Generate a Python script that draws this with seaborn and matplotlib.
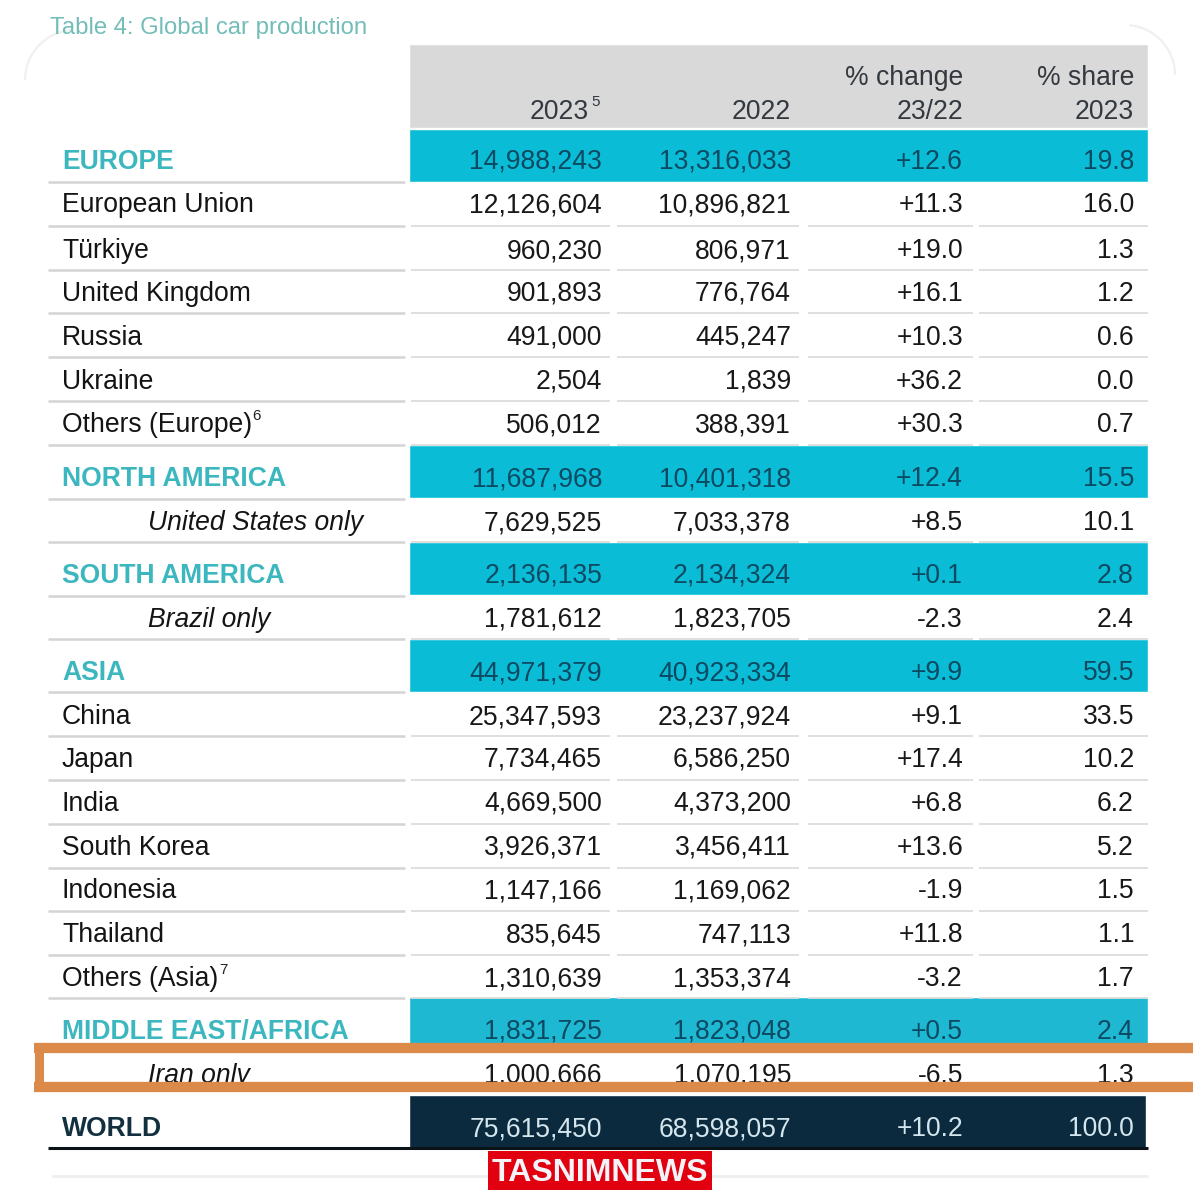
# Tabla de produccion mundial de coches
import pandas as pd
import seaborn as sns
import matplotlib.pyplot as plt
from matplotlib.patches import Arc

sns.set_theme(style="white")
plt.rcParams['font.family'] = ['Liberation Sans', 'DejaVu Sans']

# Datos
filas = ["EUROPE", "European Union", "Türkiye", "United Kingdom", "Russia", "Ukraine", "Others (Europe)",
         "NORTH AMERICA", "United States only", "SOUTH AMERICA", "Brazil only", "ASIA", "China", "Japan",
         "India", "South Korea", "Indonesia", "Thailand", "Others (Asia)", "MIDDLE EAST/AFRICA", "Iran only", "WORLD"]
valores_2023 = [14988243, 12126604, 960230, 901893, 491000, 2504, 506012, 11687968, 7629525, 2136135, 1781612,
                44971379, 25347593, 7734465, 4669500, 3926371, 1147166, 835645, 1310639, 1831725, 1000666, 75615450]
valores_2022 = [13316033, 10896821, 806971, 776764, 445247, 1839, 388391, 10401318, 7033378, 2134324, 1823705,
                40923334, 23237924, 6586250, 4373200, 3456411, 1169062, 747113, 1353374, 1823048, 1070195, 68598057]
cambio = [12.6, 11.3, 19.0, 16.1, 10.3, 36.2, 30.3, 12.4, 8.5, 0.1, -2.3, 9.9, 9.1, 17.4, 6.8, 13.6, -1.9, 11.8,
          -3.2, 0.5, -6.5, 10.2]
cuota = [19.8, 16.0, 1.3, 1.2, 0.6, 0.0, 0.7, 15.5, 10.1, 2.8, 2.4, 59.5, 33.5, 10.2, 6.2, 5.2, 1.5, 1.1, 1.7,
         2.4, 1.3, 100.0]
regiones = ["EUROPE", "NORTH AMERICA", "SOUTH AMERICA", "ASIA", "MIDDLE EAST/AFRICA"]
solo_pais = ["United States only", "Brazil only", "Iran only"]

# Posicion de las filas en pixeles
centros = [160, 203, 249, 292, 336, 380, 423, 477, 521, 574, 618, 671, 715, 758, 802, 846, 889, 933, 977, 1030, 1074, 1127]
lineas_izq = [182, 226, 270, 313, 357, 401, 445, 499, 542, 596, 639, 692, 736, 780, 824, 868, 911, 955, 998]
lineas_der = [226, 270, 313, 357, 401, 445, 542, 639, 736, 780, 824, 868, 911, 955, 998]
tramos = [(411, 610), (617, 799), (808, 973), (979, 1148)]
bordes = [602, 791, 963, 1134]

fig, ax = plt.subplots(figsize=(12, 12), dpi=100)
fig.patch.set_facecolor("white")
ax.set_position([0, 0, 1, 1])


def banda(arriba, abajo, color, derecha=1148):
    df = pd.DataFrame({"y": [(arriba + abajo) / 2], "ancho": [derecha - 409]})
    sns.barplot(data=df, x="ancho", y="y", orient="y", native_scale=True, width=abajo - arriba,
                left=409, color=color, saturation=1, ax=ax, zorder=1)


banda(44, 128, "#d9d9d9")
banda(129, 182, "#0bbcd6")
banda(445, 498, "#0bbcd6")
banda(542, 595, "#0bbcd6")
banda(639, 692, "#0bbcd6")
banda(997, 1047, "#1fb8d3")
banda(1095, 1148, "#0c2a3e", derecha=1146)

ax.set_xlim(0, 1200)
ax.set_ylim(1200, 0)
ax.axis("off")

# Lineas separadoras
ax.hlines(lineas_izq, 48, 405, color="#d4d4d4", lw=1.8, zorder=2)
for a, b in tramos:
    ax.hlines(lineas_der, a, b, color="#dcdcdc", lw=1.3, zorder=2)
ax.hlines(1148, 48, 1148, color="#0a1418", lw=2.2, zorder=3)
ax.hlines(1176, 52, 1148, color="#efefef", lw=2, zorder=2)

# Esquinas tenues de la captura
ax.add_patch(Arc((75, 80), 100, 100, theta1=180, theta2=265, color="#f0f0f0", lw=1.6))
ax.add_patch(Arc((1125, 75), 100, 100, theta1=275, theta2=360, color="#f0f0f0", lw=1.6))

# Titulo y cabecera
ax.text(50, 34, "Table 4: Global car production", fontsize=17.2, color="#73bdb9")
cab = "#33393f"
tam = 19.1
ax.text(589, 119, "2023", ha="right", fontsize=tam, color=cab)
ax.text(591, 106, "5", ha="left", fontsize=11, color=cab)
ax.text(bordes[1], 119, "2022", ha="right", fontsize=tam, color=cab)
ax.text(bordes[2], 85, "% change", ha="right", fontsize=tam, color=cab)
ax.text(bordes[2], 119, "23/22", ha="right", fontsize=tam, color=cab)
ax.text(bordes[3], 85, "% share", ha="right", fontsize=tam, color=cab)
ax.text(bordes[3], 119, "2023", ha="right", fontsize=tam, color=cab)

# Filas
for i, nombre in enumerate(filas):
    base = centros[i] + 9
    if nombre in regiones:
        ax.text(62, base, nombre, fontsize=tam, fontweight="bold", color="#3db7bf")
        color = "#0b4a62"
    elif nombre == "WORLD":
        ax.text(62, base, nombre, fontsize=tam, fontweight="bold", color="#12303f")
        color = "#d3e6ee"
    elif nombre in solo_pais:
        ax.text(148, base, nombre, fontsize=tam, style="italic", color="#141414")
        color = "#181818"
    else:
        ax.text(62, base, nombre, fontsize=tam, color="#141414")
        color = "#181818"
    textos = [f"{valores_2023[i]:,}", f"{valores_2022[i]:,}", f"{cambio[i]:+.1f}", f"{cuota[i]:.1f}"]
    for x, t in zip(bordes, textos):
        ax.text(x, base, t, ha="right", fontsize=tam, color=color, zorder=4)

# Notas en superindice
ax.text(252, 420, "6", fontsize=11, color="#222222")
ax.text(219, 974, "7", fontsize=11, color="#222222")

# Recuadro naranja sobre Iran
naranja = "#dc8a4a"
ax.hlines([1048, 1086.5], 34, 1193, color=naranja, lw=7.4, zorder=5)
ax.vlines(38.5, 1044, 1091, color=naranja, lw=6.5, zorder=5)

# Marca de agua
ax.fill_between([488, 712], 1151, 1190, color="#e0000f", lw=0, zorder=6)
ax.text(600, 1181, "TASNIMNEWS", ha="center", fontsize=23, fontweight="bold", color="#f4f4f8", zorder=7)

plt.savefig("out.png", dpi=100)
plt.close()
